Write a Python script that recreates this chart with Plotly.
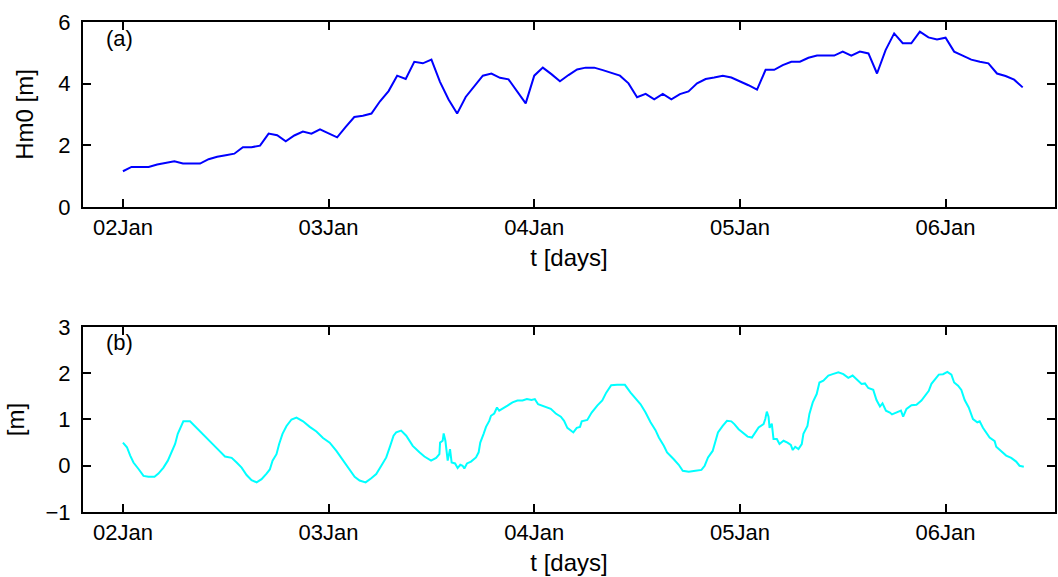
import pandas as pd
import plotly.graph_objects as go

BASE = pd.Timestamp("2000-01-02 00:00")

# Panel (a): significant wave height Hm0 [m], hourly from 02 Jan 00:00
hm0_hours = list(range(106))
hm0_values = [
    1.16, 1.30, 1.30, 1.30, 1.38, 1.43, 1.48, 1.41, 1.41, 1.41,
    1.55, 1.63, 1.68, 1.73, 1.94, 1.94, 1.99, 2.38, 2.33, 2.13,
    2.32, 2.45, 2.38, 2.52, 2.39, 2.26, 2.60, 2.92, 2.96, 3.03,
    3.43, 3.76, 4.26, 4.15, 4.71, 4.66, 4.78, 4.06, 3.49, 3.03,
    3.57, 3.90, 4.26, 4.33, 4.19, 4.14, 3.75, 3.36, 4.26, 4.52,
    4.31, 4.08, 4.28, 4.46, 4.52, 4.52, 4.44, 4.36, 4.26, 4.01,
    3.56, 3.67, 3.49, 3.67, 3.49, 3.66, 3.75, 4.01, 4.15, 4.20,
    4.26, 4.20, 4.08, 3.95, 3.81, 4.45, 4.45, 4.60, 4.71, 4.71,
    4.84, 4.91, 4.91, 4.91, 5.04, 4.91, 5.04, 4.98, 4.33, 5.09,
    5.63, 5.31, 5.31, 5.69, 5.50, 5.43, 5.49, 5.04, 4.91, 4.78,
    4.71, 4.66, 4.33, 4.25, 4.13, 3.88,
]

# Panel (b): water level [m]
wl_hours = [
    0.00, 0.47, 0.85, 1.23, 1.82, 2.40, 2.98, 3.68, 4.14, 4.73, 5.24, 5.70, 6.09, 6.40, 6.71,
    7.05, 7.83, 8.61, 9.38, 10.16, 10.94, 11.91, 12.69, 13.27, 13.85, 14.43, 15.01, 15.60,
    16.18, 16.76, 17.14, 17.46, 17.92, 18.23, 18.62, 19.09, 19.67, 20.25, 21.02, 21.80,
    22.58, 23.35, 24.13, 24.91, 25.68, 26.46, 27.04, 27.62, 28.32, 28.98, 29.56, 30.15,
    30.73, 31.19, 31.58, 31.89, 32.47, 33.06, 33.82, 34.60, 35.18, 35.96, 36.55, 36.93,
    37.01, 37.31, 37.43, 37.63, 37.90, 38.17, 38.36, 38.76, 39.06, 39.37, 39.64, 39.84,
    40.15, 40.62, 41.20, 41.51, 41.70, 42.09, 42.37, 42.75, 42.95, 43.33, 43.65, 43.91,
    44.30, 44.88, 45.46, 46.04, 46.63, 47.14, 47.68, 48.07, 48.45, 48.95, 49.35, 49.93,
    50.51, 51.10, 51.48, 51.86, 52.56, 52.96, 53.34, 53.54, 54.19, 54.70, 55.35, 55.94,
    56.40, 56.98, 57.68, 58.58, 59.24, 59.83, 60.41, 60.99, 61.57, 62.15, 62.54, 63.12,
    63.50, 64.28, 64.86, 65.33, 66.03, 66.81, 67.51, 67.89, 68.28, 68.82, 69.14, 69.44,
    69.99, 70.49, 71.00, 71.35, 71.85, 72.43, 72.90, 73.40, 73.79, 74.18, 74.76, 74.96,
    75.14, 75.34, 75.46, 75.72, 75.92, 76.31, 76.62, 77.09, 77.55, 77.94, 78.17, 78.45,
    78.83, 79.22, 79.41, 79.88, 80.11, 80.50, 80.96, 81.28, 81.74, 82.32, 82.82, 83.49,
    84.07, 84.65, 85.15, 85.70, 86.20, 86.59, 86.98, 87.56, 87.94, 88.34, 88.64, 89.04,
    89.50, 89.75, 90.27, 90.79, 91.05, 91.44, 92.02, 92.60, 93.18, 93.58, 94.04, 94.35,
    94.74, 95.21, 95.71, 96.21, 96.68, 97.00, 97.46, 97.84, 98.23, 98.70, 99.20, 99.70,
    99.98, 100.36, 101.14, 101.73, 101.91, 102.49, 103.07, 103.66, 104.24, 104.63, 105.13,
]
wl_values = [
    0.50, 0.40, 0.22, 0.07, -0.07, -0.22, -0.24, -0.24, -0.17, -0.04, 0.11, 0.29, 0.47, 0.69, 0.82,
    0.96, 0.96, 0.82, 0.67, 0.53, 0.38, 0.20, 0.17, 0.07, -0.04, -0.20, -0.31, -0.36,
    -0.29, -0.17, -0.08, 0.11, 0.25, 0.47, 0.69, 0.86, 1.00, 1.04, 0.96, 0.84,
    0.74, 0.60, 0.50, 0.32, 0.12, -0.07, -0.24, -0.32, -0.36, -0.27, -0.18, 0.00,
    0.18, 0.43, 0.65, 0.72, 0.76, 0.65, 0.43, 0.29, 0.20, 0.11, 0.17, 0.25,
    0.50, 0.54, 0.70, 0.54, 0.11, 0.36, 0.07, 0.05, -0.05, 0.02, 0.00, -0.06,
    0.05, 0.09, 0.18, 0.29, 0.50, 0.69, 0.84, 0.97, 1.08, 1.13, 1.26, 1.19,
    1.23, 1.30, 1.37, 1.41, 1.41, 1.44, 1.42, 1.44, 1.33, 1.30, 1.28, 1.23,
    1.13, 1.06, 0.97, 0.82, 0.72, 0.82, 0.84, 0.96, 0.99, 1.15, 1.30, 1.41,
    1.58, 1.74, 1.75, 1.75, 1.58, 1.46, 1.33, 1.15, 0.94, 0.77, 0.61, 0.43,
    0.29, 0.14, 0.02, -0.11, -0.13, -0.11, -0.09, 0.00, 0.18, 0.32, 0.54, 0.72,
    0.86, 0.97, 0.96, 0.90, 0.79, 0.70, 0.63, 0.61, 0.72, 0.83, 0.90, 1.01,
    1.17, 1.06, 0.82, 0.91, 0.58, 0.58, 0.47, 0.54, 0.50, 0.45, 0.34, 0.41,
    0.36, 0.47, 0.69, 0.86, 1.12, 1.37, 1.55, 1.80, 1.84, 1.95, 1.98, 2.02,
    1.98, 1.90, 1.95, 1.85, 1.77, 1.78, 1.68, 1.64, 1.42, 1.28, 1.35, 1.19,
    1.15, 1.11, 1.15, 1.19, 1.06, 1.23, 1.31, 1.32, 1.41, 1.51, 1.62, 1.77,
    1.87, 1.97, 1.98, 2.03, 1.97, 1.80, 1.73, 1.64, 1.42, 1.26, 1.01, 0.94,
    0.96, 0.82, 0.61, 0.53, 0.41, 0.32, 0.22, 0.17, 0.09, 0.00, -0.02,
]

hm0_t = BASE + pd.to_timedelta(hm0_hours, unit="h")
wl_t = BASE + pd.to_timedelta(wl_hours, unit="h")

x_range = [BASE - pd.Timedelta(hours=4.66), BASE + pd.Timedelta(hours=108.77)]

FONT = "Liberation Sans, Arial, sans-serif"

fig = go.Figure()
fig.add_trace(go.Scatter(x=hm0_t, y=hm0_values, mode="lines",
                         line=dict(color="#0000ff", width=2), xaxis="x", yaxis="y",
                         showlegend=False))
fig.add_trace(go.Scatter(x=wl_t, y=wl_values, mode="lines",
                         line=dict(color="#00ffff", width=2), xaxis="x2", yaxis="y2",
                         showlegend=False))

xcommon = dict(type="date", range=x_range, tickformat="%d%b", dtick=86400000,
               tick0=BASE, ticks="inside", ticklen=8, tickwidth=1.5, tickcolor="black",
               showline=True, linecolor="black", linewidth=2, mirror="ticks",
               showgrid=False, zeroline=False,
               tickfont=dict(family=FONT, size=22, color="black"),
               title=dict(text="t [days]", font=dict(family=FONT, size=24, color="black"),
                          standoff=10))
ycommon = dict(ticks="inside", ticklen=8, tickwidth=1.5, tickcolor="black",
               showline=True, linecolor="black", linewidth=2, mirror="ticks",
               showgrid=False, zeroline=False, ticklabelstandoff=6,
               tickfont=dict(family=FONT, size=22, color="black"))

fig.update_layout(
    width=1058, height=577,
    margin=dict(l=83, r=1, t=22, b=65),
    paper_bgcolor="white", plot_bgcolor="white",
    xaxis=dict(domain=[0, 1], anchor="y", **xcommon),
    xaxis2=dict(domain=[0, 1], anchor="y2", **xcommon),
    yaxis=dict(domain=[0.6224, 1], anchor="x", range=[0, 6], dtick=2,
               title=dict(text="Hm0 [m]", font=dict(family=FONT, size=24, color="black"),
                          standoff=18),
               **ycommon),
    yaxis2=dict(domain=[0, 0.3776], anchor="x2", range=[-1, 3], dtick=1,
                title=dict(text="[m]", font=dict(family=FONT, size=24, color="black"),
                           standoff=14),
                **ycommon),
    annotations=[
        dict(text="(a)", xref="x domain", yref="y domain", x=0.022, y=0.913,
             xanchor="left", yanchor="middle", showarrow=False,
             font=dict(family=FONT, size=22, color="black")),
        dict(text="(b)", xref="x2 domain", yref="y2 domain", x=0.022, y=0.917,
             xanchor="left", yanchor="middle", showarrow=False,
             font=dict(family=FONT, size=22, color="black")),
    ],
)

fig.write_html("out.html")
